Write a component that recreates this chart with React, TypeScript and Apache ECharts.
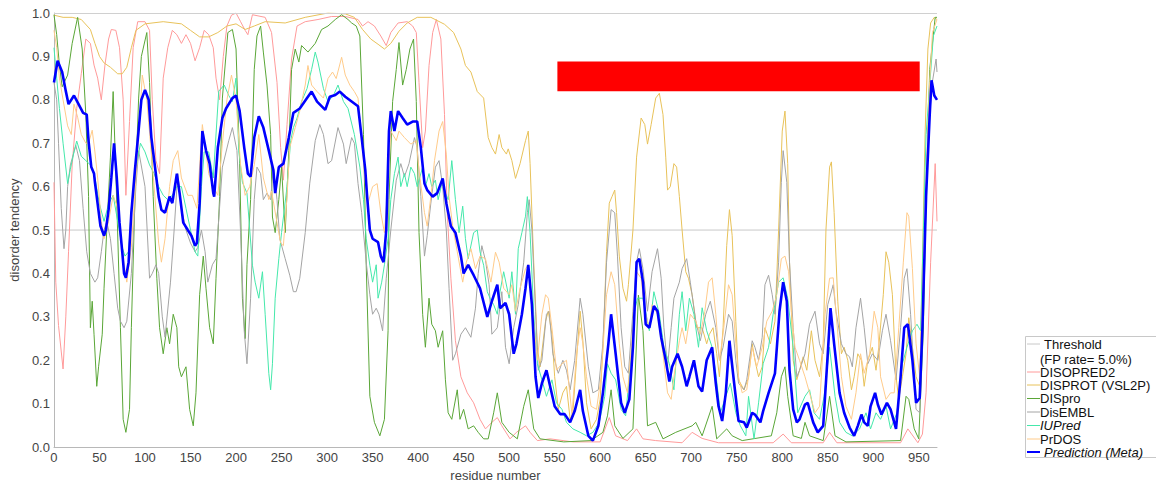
import React, { useEffect, useRef } from "react";
import * as echarts from "echarts";

type P = [number, number];

const X_MAX = 970;
const X_TICK = 50;
const THRESHOLD = 0.5;
const DOMAIN_RANGE: [number, number] = [553, 951];
const DOMAIN_BAND: [number, number] = [0.82, 0.888];

const LEGEND_LABELS = [
  "Threshold",
  "(FP rate= 5.0%)",
  "DISOPRED2",
  "DISPROT (VSL2P)",
  "DISpro",
  "DisEMBL",
  "IUPred",
  "PrDOS",
  "Prediction (Meta)",
];

const DISOPRED2: P[] = [[0,0.61],[2,0.38],[5,0.28],[10,0.18],[13,0.30],[16,0.45],[20,0.65],[25,0.78],[30,0.86],[35,0.94],[40,0.93],[44,0.88],[48,0.85],[52,0.80],[56,0.88],[60,0.94],[63,0.962],[68,0.96],[72,0.92],[76,0.80],[79,0.58],[83,0.75],[87,0.92],[92,0.98],[100,0.98],[105,0.96],[108,0.80],[112,0.66],[116,0.63],[120,0.85],[125,0.92],[130,0.96],[135,0.95],[140,0.93],[145,0.95],[150,0.93],[155,0.89],[160,0.92],[165,0.96],[170,0.95],[175,0.92],[178,0.85],[182,0.80],[186,0.90],[190,0.97],[195,0.995],[200,1.0],[205,0.98],[210,0.96],[213,0.95],[218,0.996],[232,0.99],[239,0.955],[245,0.84],[249,0.69],[252,0.615],[256,0.743],[261,0.894],[267,0.97],[276,0.98],[290,0.985],[305,0.992],[320,0.992],[334,0.985],[339,0.97],[345,0.98],[352,0.97],[359,0.947],[365,0.925],[370,0.955],[378,0.977],[388,0.98],[394,0.97],[398,0.955],[401,0.84],[405,0.69],[408,0.728],[412,0.879],[416,0.955],[420,0.985],[425,0.94],[429,0.766],[432,0.54],[436,0.389],[441,0.245],[447,0.162],[454,0.125],[461,0.102],[468,0.064],[474,0.042],[481,0.057],[487,0.068],[492,0.049],[501,0.019],[508,0.034],[518,0.049],[523,0.034],[531,0.015],[545,0.019],[570,0.012],[600,0.012],[610,0.068],[617,0.026],[630,0.015],[640,0.042],[647,0.019],[661,0.015],[690,0.01],[701,0.034],[712,0.02],[730,0.01],[790,0.01],[801,0.03],[810,0.01],[845,0.01],[852,0.034],[860,0.01],[930,0.01],[938,0.042],[949,0.01],[954,0.03],[958,0.125],[963,0.426],[968,0.653],[970,0.52]];

const DISPROT: P[] = [[0,0.995],[10,0.99],[20,0.99],[30,0.985],[40,0.962],[45,0.93],[50,0.90],[55,0.885],[62,0.875],[70,0.86],[75,0.86],[80,0.875],[85,0.92],[90,0.96],[100,0.975],[120,0.98],[140,0.975],[150,0.96],[160,0.945],[170,0.945],[180,0.955],[190,0.97],[200,0.975],[210,0.962],[220,0.97],[232,0.98],[254,0.977],[276,0.99],[301,1.0],[320,0.998],[330,0.99],[339,0.962],[348,0.94],[356,0.928],[363,0.917],[370,0.93],[379,0.958],[388,0.977],[399,0.99],[414,0.99],[429,0.974],[439,0.955],[447,0.917],[452,0.879],[458,0.864],[465,0.819],[472,0.804],[477,0.713],[481,0.69],[485,0.675],[489,0.72],[492,0.69],[497,0.675],[499,0.687],[503,0.66],[507,0.619],[512,0.653],[518,0.706],[521,0.728],[523,0.653],[527,0.426],[531,0.23],[534,0.185],[540,0.29],[543,0.313],[547,0.26],[550,0.162],[554,0.087],[559,0.125],[563,0.14],[567,0.064],[570,0.079],[574,0.2],[578,0.313],[581,0.245],[585,0.102],[590,0.042],[596,0.064],[600,0.11],[603,0.23],[607,0.45],[610,0.562],[613,0.577],[616,0.592],[618,0.54],[621,0.44],[625,0.366],[629,0.336],[631,0.374],[636,0.50],[640,0.668],[645,0.758],[649,0.743],[652,0.698],[656,0.743],[661,0.804],[665,0.815],[669,0.766],[672,0.668],[674,0.592],[677,0.6],[681,0.653],[684,0.645],[687,0.577],[690,0.50],[694,0.404],[697,0.389],[701,0.351],[706,0.275],[712,0.275],[717,0.238],[720,0.26],[724,0.275],[728,0.215],[731,0.162],[735,0.275],[739,0.464],[742,0.547],[745,0.487],[749,0.29],[752,0.155],[758,0.132],[763,0.16],[767,0.238],[770,0.2],[774,0.162],[778,0.185],[781,0.275],[787,0.238],[792,0.29],[796,0.50],[800,0.728],[803,0.774],[806,0.653],[808,0.426],[812,0.2],[816,0.155],[819,0.177],[823,0.208],[827,0.177],[832,0.268],[836,0.2],[841,0.162],[845,0.238],[848,0.50],[852,0.645],[854,0.657],[857,0.54],[861,0.336],[865,0.215],[868,0.23],[872,0.2],[876,0.132],[879,0.162],[883,0.215],[887,0.2],[890,0.14],[894,0.2],[899,0.23],[903,0.177],[906,0.23],[911,0.351],[914,0.45],[917,0.426],[921,0.351],[925,0.162],[928,0.11],[932,0.162],[936,0.215],[939,0.298],[943,0.23],[947,0.162],[951,0.14],[954,0.426],[957,0.728],[960,0.917],[963,0.977],[967,0.99],[970,0.985]];

const DISPRO: P[] = [[0,0.996],[3,0.95],[6,0.88],[9,0.83],[15,0.857],[20,0.93],[26,0.99],[31,0.917],[35,0.766],[38,0.577],[40,0.275],[42,0.336],[44,0.26],[47,0.14],[49,0.185],[53,0.26],[55,0.366],[58,0.50],[62,0.668],[65,0.819],[69,0.562],[73,0.275],[76,0.064],[79,0.034],[83,0.087],[85,0.275],[89,0.577],[93,0.804],[96,0.90],[102,0.955],[105,0.84],[109,0.577],[113,0.389],[116,0.275],[120,0.215],[124,0.275],[127,0.238],[131,0.306],[135,0.275],[137,0.185],[140,0.162],[145,0.185],[149,0.087],[153,0.049],[156,0.125],[160,0.351],[164,0.44],[167,0.366],[171,0.275],[175,0.238],[178,0.389],[182,0.577],[185,0.804],[191,0.955],[196,0.962],[200,0.917],[204,0.653],[207,0.343],[210,0.25],[212,0.42],[216,0.57],[220,0.87],[223,0.947],[227,0.97],[230,0.91],[234,0.834],[238,0.72],[240,0.53],[243,0.494],[247,0.57],[250,0.645],[254,0.494],[258,0.683],[261,0.87],[265,0.917],[269,0.887],[272,0.925],[279,0.91],[287,0.93],[294,0.962],[301,0.97],[309,0.985],[316,0.996],[323,0.985],[327,0.977],[332,0.97],[336,0.947],[340,0.72],[343,0.419],[347,0.117],[352,0.057],[358,0.026],[363,0.064],[367,0.268],[368,0.57],[372,0.796],[376,0.87],[379,0.932],[383,0.834],[387,0.87],[391,0.917],[395,0.94],[398,0.796],[401,0.494],[405,0.306],[408,0.23],[412,0.343],[415,0.283],[419,0.268],[422,0.23],[427,0.268],[430,0.155],[433,0.079],[437,0.064],[443,0.132],[446,0.064],[450,0.087],[455,0.042],[461,0.049],[466,0.034],[472,0.019],[477,0.019],[483,0.079],[487,0.125],[492,0.057],[500,0.034],[509,0.019],[516,0.094],[521,0.132],[527,0.042],[534,0.019],[560,0.012],[590,0.015],[603,0.034],[608,0.072],[612,0.132],[616,0.049],[625,0.02],[636,0.042],[642,0.35],[647,0.268],[652,0.049],[661,0.057],[669,0.019],[683,0.034],[701,0.049],[705,0.057],[712,0.026],[723,0.094],[728,0.019],[739,0.042],[745,0.026],[756,0.015],[788,0.026],[794,0.079],[799,0.162],[803,0.185],[806,0.117],[812,0.026],[821,0.02],[825,0.057],[830,0.026],[845,0.015],[852,0.117],[858,0.026],[870,0.012],[930,0.015],[936,0.117],[939,0.11],[945,0.042],[950,0.019],[955,0.27],[958,0.57],[962,0.87],[968,0.99],[970,0.99]];

const DISEMBL: P[] = [[0,0.84],[3,0.80],[5,0.70],[8,0.55],[11,0.457],[13,0.50],[15,0.60],[18,0.65],[24,0.695],[28,0.66],[32,0.55],[36,0.45],[40,0.40],[45,0.38],[48,0.39],[52,0.45],[55,0.50],[58,0.52],[62,0.48],[66,0.40],[70,0.32],[73,0.29],[77,0.275],[80,0.29],[85,0.40],[90,0.60],[93,0.683],[100,0.60],[105,0.389],[108,0.40],[112,0.42],[115,0.40],[119,0.30],[122,0.253],[128,0.38],[132,0.50],[136,0.63],[140,0.55],[145,0.50],[150,0.47],[155,0.45],[158,0.46],[162,0.50],[166,0.45],[169,0.38],[174,0.42],[178,0.434],[185,0.645],[192,0.706],[196,0.736],[201,0.683],[205,0.494],[209,0.268],[212,0.192],[216,0.343],[220,0.57],[223,0.645],[227,0.63],[230,0.57],[234,0.585],[238,0.57],[241,0.645],[245,0.57],[248,0.48],[254,0.434],[259,0.396],[263,0.358],[266,0.358],[270,0.389],[276,0.494],[281,0.608],[287,0.706],[292,0.743],[296,0.72],[301,0.653],[305,0.66],[312,0.736],[318,0.698],[321,0.653],[327,0.713],[330,0.70],[334,0.607],[338,0.54],[343,0.426],[347,0.351],[350,0.306],[354,0.32],[357,0.306],[361,0.268],[365,0.389],[370,0.50],[376,0.615],[381,0.653],[385,0.623],[390,0.653],[396,0.713],[399,0.69],[403,0.577],[407,0.44],[410,0.487],[414,0.562],[419,0.645],[423,0.66],[427,0.6],[431,0.50],[434,0.366],[438,0.2],[441,0.215],[447,0.26],[452,0.275],[458,0.253],[463,0.32],[466,0.40],[470,0.464],[474,0.43],[478,0.374],[481,0.26],[487,0.275],[492,0.358],[496,0.23],[500,0.192],[505,0.275],[510,0.328],[516,0.426],[520,0.54],[522,0.57],[525,0.50],[529,0.313],[532,0.177],[536,0.2],[541,0.306],[544,0.313],[548,0.215],[554,0.17],[559,0.2],[563,0.177],[567,0.132],[572,0.2],[578,0.343],[581,0.306],[587,0.185],[592,0.125],[598,0.132],[603,0.238],[607,0.426],[612,0.547],[616,0.54],[619,0.44],[623,0.275],[627,0.185],[631,0.17],[636,0.313],[640,0.426],[643,0.457],[647,0.411],[652,0.313],[657,0.404],[663,0.457],[667,0.389],[670,0.275],[674,0.185],[678,0.275],[681,0.343],[687,0.38],[690,0.411],[695,0.434],[699,0.38],[705,0.29],[710,0.245],[716,0.306],[721,0.336],[727,0.275],[731,0.2],[735,0.23],[741,0.306],[745,0.29],[749,0.2],[752,0.147],[758,0.132],[761,0.155],[767,0.245],[770,0.23],[774,0.2],[778,0.253],[781,0.374],[785,0.396],[789,0.351],[792,0.306],[796,0.426],[799,0.61],[801,0.683],[805,0.61],[808,0.426],[812,0.275],[816,0.162],[819,0.177],[825,0.215],[830,0.283],[836,0.313],[841,0.238],[845,0.215],[850,0.328],[856,0.374],[859,0.313],[865,0.238],[870,0.215],[874,0.208],[877,0.185],[881,0.275],[886,0.343],[890,0.275],[894,0.192],[899,0.215],[905,0.2],[910,0.268],[914,0.306],[919,0.245],[925,0.155],[930,0.275],[934,0.389],[937,0.411],[941,0.306],[947,0.087],[951,0.079],[954,0.275],[958,0.577],[962,0.766],[965,0.842],[969,0.894],[970,0.864]];

const IUPRED: P[] = [[0,0.92],[3,0.85],[6,0.78],[10,0.70],[15,0.607],[18,0.64],[22,0.68],[25,0.705],[30,0.67],[35,0.66],[40,0.65],[45,0.62],[50,0.56],[55,0.52],[60,0.56],[65,0.58],[70,0.52],[75,0.46],[78,0.44],[82,0.45],[85,0.55],[90,0.64],[95,0.70],[100,0.68],[105,0.65],[110,0.63],[115,0.60],[120,0.58],[125,0.57],[130,0.58],[135,0.60],[140,0.60],[145,0.55],[150,0.50],[155,0.45],[158,0.44],[162,0.60],[165,0.68],[170,0.68],[175,0.62],[181,0.82],[187,0.834],[192,0.81],[196,0.796],[200,0.85],[203,0.683],[207,0.61],[212,0.585],[218,0.419],[221,0.38],[225,0.343],[229,0.404],[232,0.306],[236,0.17],[238,0.132],[240,0.192],[243,0.343],[247,0.434],[250,0.494],[256,0.6],[260,0.706],[263,0.736],[267,0.758],[272,0.796],[278,0.826],[283,0.87],[287,0.91],[290,0.887],[296,0.826],[301,0.796],[307,0.81],[312,0.834],[318,0.796],[323,0.78],[330,0.72],[336,0.645],[340,0.57],[343,0.48],[347,0.419],[350,0.38],[354,0.42],[356,0.343],[360,0.38],[363,0.42],[367,0.48],[370,0.57],[374,0.63],[378,0.668],[381,0.6],[385,0.63],[388,0.6],[392,0.645],[396,0.63],[399,0.6],[405,0.645],[408,0.6],[412,0.63],[415,0.6],[419,0.615],[422,0.57],[427,0.615],[430,0.585],[433,0.57],[437,0.66],[441,0.57],[445,0.494],[449,0.555],[452,0.48],[455,0.434],[461,0.494],[465,0.5],[468,0.45],[472,0.419],[476,0.358],[479,0.343],[483,0.328],[487,0.306],[490,0.358],[494,0.404],[500,0.343],[503,0.404],[507,0.306],[510,0.457],[514,0.494],[518,0.532],[520,0.577],[523,0.494],[527,0.306],[531,0.192],[536,0.155],[541,0.117],[547,0.155],[552,0.102],[558,0.087],[563,0.057],[570,0.042],[578,0.034],[585,0.026],[592,0.034],[599,0.057],[605,0.117],[608,0.192],[612,0.17],[617,0.155],[623,0.087],[628,0.072],[634,0.208],[637,0.306],[641,0.343],[647,0.343],[654,0.268],[659,0.358],[665,0.306],[670,0.23],[676,0.192],[681,0.132],[687,0.306],[690,0.358],[694,0.268],[698,0.343],[703,0.306],[708,0.23],[712,0.321],[717,0.268],[723,0.23],[727,0.17],[732,0.079],[738,0.117],[743,0.147],[749,0.079],[754,0.049],[760,0.026],[763,0.117],[769,0.019],[774,0.102],[779,0.192],[785,0.23],[790,0.306],[796,0.38],[801,0.39],[806,0.343],[812,0.23],[817,0.079],[825,0.117],[830,0.132],[835,0.079],[841,0.064],[846,0.117],[852,0.23],[858,0.117],[863,0.057],[870,0.034],[877,0.026],[885,0.042],[892,0.079],[897,0.042],[903,0.079],[908,0.064],[914,0.095],[919,0.042],[926,0.079],[932,0.192],[937,0.23],[943,0.268],[948,0.283],[952,0.268],[955,0.494],[958,0.72],[962,0.834],[966,0.947],[970,0.97]];

const PRDOS: P[] = [[0,0.96],[3,0.92],[6,0.85],[10,0.80],[15,0.74],[19,0.72],[22,0.79],[26,0.76],[30,0.72],[35,0.70],[38,0.70],[42,0.73],[45,0.68],[48,0.62],[52,0.52],[55,0.48],[60,0.52],[65,0.58],[70,0.55],[75,0.45],[80,0.38],[85,0.46],[90,0.62],[94,0.75],[97,0.857],[102,0.80],[106,0.70],[110,0.60],[115,0.47],[118,0.426],[122,0.48],[127,0.60],[131,0.66],[136,0.683],[140,0.62],[147,0.58],[152,0.58],[157,0.55],[163,0.743],[170,0.63],[175,0.60],[180,0.58],[185,0.70],[190,0.80],[195,0.857],[200,0.80],[205,0.65],[210,0.58],[215,0.60],[220,0.65],[225,0.72],[230,0.62],[236,0.57],[239,0.59],[245,0.517],[249,0.47],[252,0.464],[256,0.577],[259,0.69],[265,0.736],[270,0.774],[276,0.834],[279,0.879],[283,0.834],[289,0.819],[296,0.804],[301,0.849],[306,0.864],[310,0.849],[316,0.898],[320,0.857],[325,0.834],[330,0.819],[334,0.804],[338,0.706],[342,0.607],[345,0.562],[350,0.6],[355,0.607],[359,0.54],[363,0.494],[366,0.577],[370,0.728],[376,0.706],[379,0.728],[385,0.713],[392,0.698],[398,0.706],[401,0.638],[407,0.54],[410,0.509],[414,0.577],[418,0.66],[423,0.728],[427,0.75],[431,0.675],[434,0.577],[438,0.509],[443,0.45],[449,0.38],[453,0.426],[458,0.457],[463,0.411],[468,0.44],[474,0.434],[480,0.38],[485,0.449],[489,0.426],[494,0.366],[500,0.351],[503,0.374],[507,0.313],[512,0.366],[518,0.411],[521,0.42],[525,0.328],[531,0.2],[536,0.306],[540,0.351],[543,0.343],[547,0.275],[552,0.177],[558,0.192],[563,0.2],[569,0.075],[574,0.215],[578,0.275],[581,0.238],[585,0.162],[590,0.094],[596,0.087],[601,0.162],[607,0.351],[612,0.404],[616,0.374],[621,0.238],[625,0.162],[630,0.125],[636,0.275],[640,0.404],[645,0.389],[649,0.313],[654,0.275],[657,0.328],[663,0.306],[669,0.215],[674,0.125],[678,0.11],[681,0.162],[687,0.245],[690,0.275],[694,0.238],[699,0.306],[705,0.29],[710,0.26],[715,0.313],[719,0.38],[723,0.39],[727,0.306],[731,0.2],[735,0.26],[741,0.374],[745,0.351],[749,0.238],[752,0.162],[756,0.125],[761,0.132],[767,0.23],[772,0.185],[778,0.23],[783,0.29],[789,0.313],[794,0.351],[799,0.434],[803,0.44],[807,0.404],[810,0.313],[814,0.23],[819,0.2],[825,0.162],[830,0.125],[836,0.079],[841,0.094],[847,0.306],[852,0.389],[856,0.39],[859,0.313],[865,0.162],[870,0.094],[876,0.064],[881,0.125],[886,0.215],[890,0.17],[896,0.215],[901,0.313],[905,0.275],[908,0.162],[914,0.11],[919,0.125],[923,0.125],[928,0.275],[933,0.426],[937,0.54],[939,0.532],[943,0.411],[947,0.238],[951,0.162],[954,0.351],[958,0.615],[962,0.842],[965,0.955],[970,0.985]];

const META: P[] = [[0,0.84],[4,0.89],[9,0.864],[13,0.82],[16,0.79],[22,0.81],[27,0.79],[32,0.77],[36,0.766],[38,0.705],[41,0.645],[44,0.63],[45,0.61],[51,0.51],[55,0.487],[57,0.50],[60,0.547],[63,0.62],[66,0.70],[69,0.62],[72,0.517],[75,0.45],[77,0.40],[79,0.39],[82,0.426],[85,0.54],[89,0.64],[93,0.73],[96,0.80],[100,0.823],[104,0.80],[107,0.713],[111,0.645],[115,0.577],[118,0.547],[122,0.54],[127,0.577],[130,0.562],[135,0.63],[138,0.585],[142,0.517],[147,0.50],[151,0.487],[155,0.464],[157,0.47],[160,0.562],[163,0.728],[167,0.683],[171,0.653],[175,0.585],[176,0.577],[180,0.69],[185,0.758],[189,0.78],[196,0.804],[200,0.81],[204,0.774],[209,0.69],[213,0.63],[216,0.623],[220,0.713],[225,0.762],[230,0.736],[236,0.683],[241,0.638],[243,0.585],[247,0.645],[252,0.653],[258,0.713],[263,0.77],[270,0.78],[278,0.804],[283,0.819],[289,0.796],[298,0.777],[303,0.807],[309,0.811],[314,0.819],[320,0.807],[327,0.796],[334,0.785],[338,0.713],[342,0.638],[344,0.577],[347,0.50],[350,0.48],[356,0.472],[359,0.44],[362,0.426],[365,0.50],[368,0.728],[370,0.774],[374,0.728],[378,0.774],[383,0.758],[388,0.743],[394,0.75],[399,0.75],[403,0.69],[407,0.607],[410,0.592],[416,0.577],[421,0.585],[427,0.619],[431,0.562],[436,0.509],[441,0.494],[447,0.44],[450,0.40],[455,0.42],[461,0.396],[468,0.366],[476,0.30],[481,0.336],[487,0.374],[490,0.32],[496,0.332],[500,0.306],[505,0.215],[508,0.238],[514,0.306],[518,0.366],[521,0.42],[525,0.328],[529,0.162],[532,0.113],[536,0.147],[541,0.177],[545,0.14],[550,0.094],[556,0.076],[561,0.076],[567,0.057],[572,0.083],[578,0.132],[581,0.083],[587,0.026],[592,0.015],[598,0.049],[603,0.125],[609,0.238],[612,0.306],[617,0.215],[623,0.102],[627,0.079],[632,0.11],[636,0.23],[640,0.426],[643,0.434],[647,0.38],[650,0.283],[654,0.275],[659,0.325],[663,0.313],[667,0.253],[672,0.2],[676,0.151],[679,0.185],[685,0.215],[690,0.185],[695,0.14],[698,0.162],[703,0.2],[708,0.14],[712,0.128],[717,0.2],[723,0.23],[727,0.147],[730,0.094],[734,0.06],[738,0.125],[742,0.245],[747,0.15],[752,0.06],[758,0.057],[761,0.045],[767,0.079],[770,0.075],[776,0.057],[779,0.083],[785,0.125],[792,0.17],[797,0.313],[801,0.38],[805,0.336],[808,0.177],[812,0.087],[816,0.057],[819,0.064],[825,0.098],[828,0.102],[834,0.057],[839,0.034],[845,0.049],[850,0.215],[853,0.32],[857,0.238],[863,0.125],[868,0.079],[874,0.045],[879,0.026],[883,0.049],[887,0.075],[890,0.057],[894,0.049],[897,0.094],[902,0.125],[905,0.098],[909,0.075],[915,0.102],[919,0.087],[925,0.042],[930,0.162],[934,0.275],[938,0.283],[943,0.2],[947,0.102],[951,0.113],[954,0.275],[958,0.577],[962,0.766],[964,0.845],[967,0.81],[970,0.80]];

const FONT = "'Liberation Sans', Arial, Helvetica, sans-serif";

const COLORS = {
  threshold: "#c8c8c8",
  disopred: "#ff9a9a",
  disprot: "#e8c25a",
  dispro: "#5aa637",
  disembl: "#a4a4a4",
  iupred: "#45e8ab",
  prdos: "#ffcb8a",
  meta: "#0000ff",
};

export default function App() {
  const ref = useRef<HTMLDivElement>(null);

  useEffect(() => {
    if (!ref.current) return;
    const chart = echarts.init(ref.current, null, { renderer: "svg" });

    const mk = (name: string, data: P[], color: string, width: number) => ({
      name,
      type: "line",
      data,
      showSymbol: false,
      symbol: "none",
      lineStyle: { color, width },
      itemStyle: { color },
      silent: true,
    });

    const legendColors = [
      COLORS.threshold,
      null,
      COLORS.disopred,
      COLORS.disprot,
      COLORS.dispro,
      COLORS.disembl,
      COLORS.iupred,
      COLORS.prdos,
      COLORS.meta,
    ];
    const rowY = [344, 359, 372, 385, 398.5, 412, 425.5, 439, 452];
    const legendChildren: any[] = [
      {
        type: "rect",
        shape: { x: 1025.5, y: 336.5, width: 140, height: 121 },
        style: { fill: "#fff", stroke: "#c8c8c8", lineWidth: 1 },
      },
    ];
    LEGEND_LABELS.forEach((label, i) => {
      const c = legendColors[i];
      const y = rowY[i];
      if (c) {
        legendChildren.push({
          type: "line",
          shape: { x1: 1027, y1: y, x2: 1040, y2: y },
          style: { stroke: c, lineWidth: i === 8 ? 2 : 1 },
        });
      }
      const italic = label === "IUPred" || label === "Prediction (Meta)";
      legendChildren.push({
        type: "text",
        x: i === 0 || i === 8 ? 1044 : 1040,
        y,
        style: {
          text: label,
          font: `${italic ? "italic " : ""}13px ${FONT}`,
          fill: "#111",
          verticalAlign: "middle",
          align: "left",
        },
      });
    });

    chart.setOption({
      animation: false,
      backgroundColor: "#ffffff",
      grid: { left: 47, right: 219, top: 13, bottom: 31, containLabel: false },
      xAxis: {
        type: "value",
        min: 0,
        max: X_MAX,
        interval: X_TICK,
        name: "residue number",
        nameLocation: "middle",
        nameGap: 12,
        nameTextStyle: { fontFamily: FONT, fontSize: 13, color: "#444" },
        axisLine: { show: true, lineStyle: { color: "#b8b8b8", width: 1 } },
        axisTick: { show: false },
        splitLine: { show: false },
        axisLabel: {
          fontFamily: FONT,
          fontSize: 13,
          color: "#444",
          margin: 4,
          formatter: (v: number) => (v % X_TICK === 0 ? String(v) : ""),
        },
      },
      yAxis: {
        type: "value",
        min: 0,
        max: 1,
        interval: 0.1,
        name: "disorder tendency",
        nameLocation: "middle",
        nameGap: 25,
        nameTextStyle: { fontFamily: FONT, fontSize: 13, color: "#444" },
        axisLine: { show: true, lineStyle: { color: "#b8b8b8", width: 1 } },
        axisTick: { show: false },
        splitLine: { show: false },
        axisLabel: {
          fontFamily: FONT,
          fontSize: 13,
          color: "#444",
          margin: 4,
          formatter: (v: number) => v.toFixed(1),
        },
      },
      series: [
        {
          name: "Threshold",
          type: "line",
          data: [
            [0, THRESHOLD],
            [X_MAX, THRESHOLD],
          ],
          showSymbol: false,
          symbol: "none",
          silent: true,
          lineStyle: { color: COLORS.threshold, width: 1 },
          markLine: {
            silent: true,
            symbol: "none",
            label: { show: false },
            lineStyle: { color: "#d0d0d0", width: 1, type: "solid" },
            data: [{ yAxis: 1 }],
          },
        },
        mk("DISOPRED2", DISOPRED2, COLORS.disopred, 1),
        mk("DISPROT (VSL2P)", DISPROT, COLORS.disprot, 1),
        mk("DISpro", DISPRO, COLORS.dispro, 1),
        mk("DisEMBL", DISEMBL, COLORS.disembl, 1),
        mk("IUPred", IUPRED, COLORS.iupred, 1),
        mk("PrDOS", PRDOS, COLORS.prdos, 1),
        {
          ...mk("Prediction (Meta)", META, COLORS.meta, 2.6),
          markArea: {
            silent: true,
            itemStyle: { color: "#ff0000", opacity: 1 },
            data: [
              [
                { xAxis: DOMAIN_RANGE[0], yAxis: DOMAIN_BAND[0] },
                { xAxis: DOMAIN_RANGE[1], yAxis: DOMAIN_BAND[1] },
              ],
            ],
          },
        },
      ],
      graphic: legendChildren,
    });

    return () => chart.dispose();
  }, []);

  return (
    <div
      ref={ref}
      style={{ position: "absolute", left: 0, top: 0, width: 1156, height: 487 }}
    />
  );
}
